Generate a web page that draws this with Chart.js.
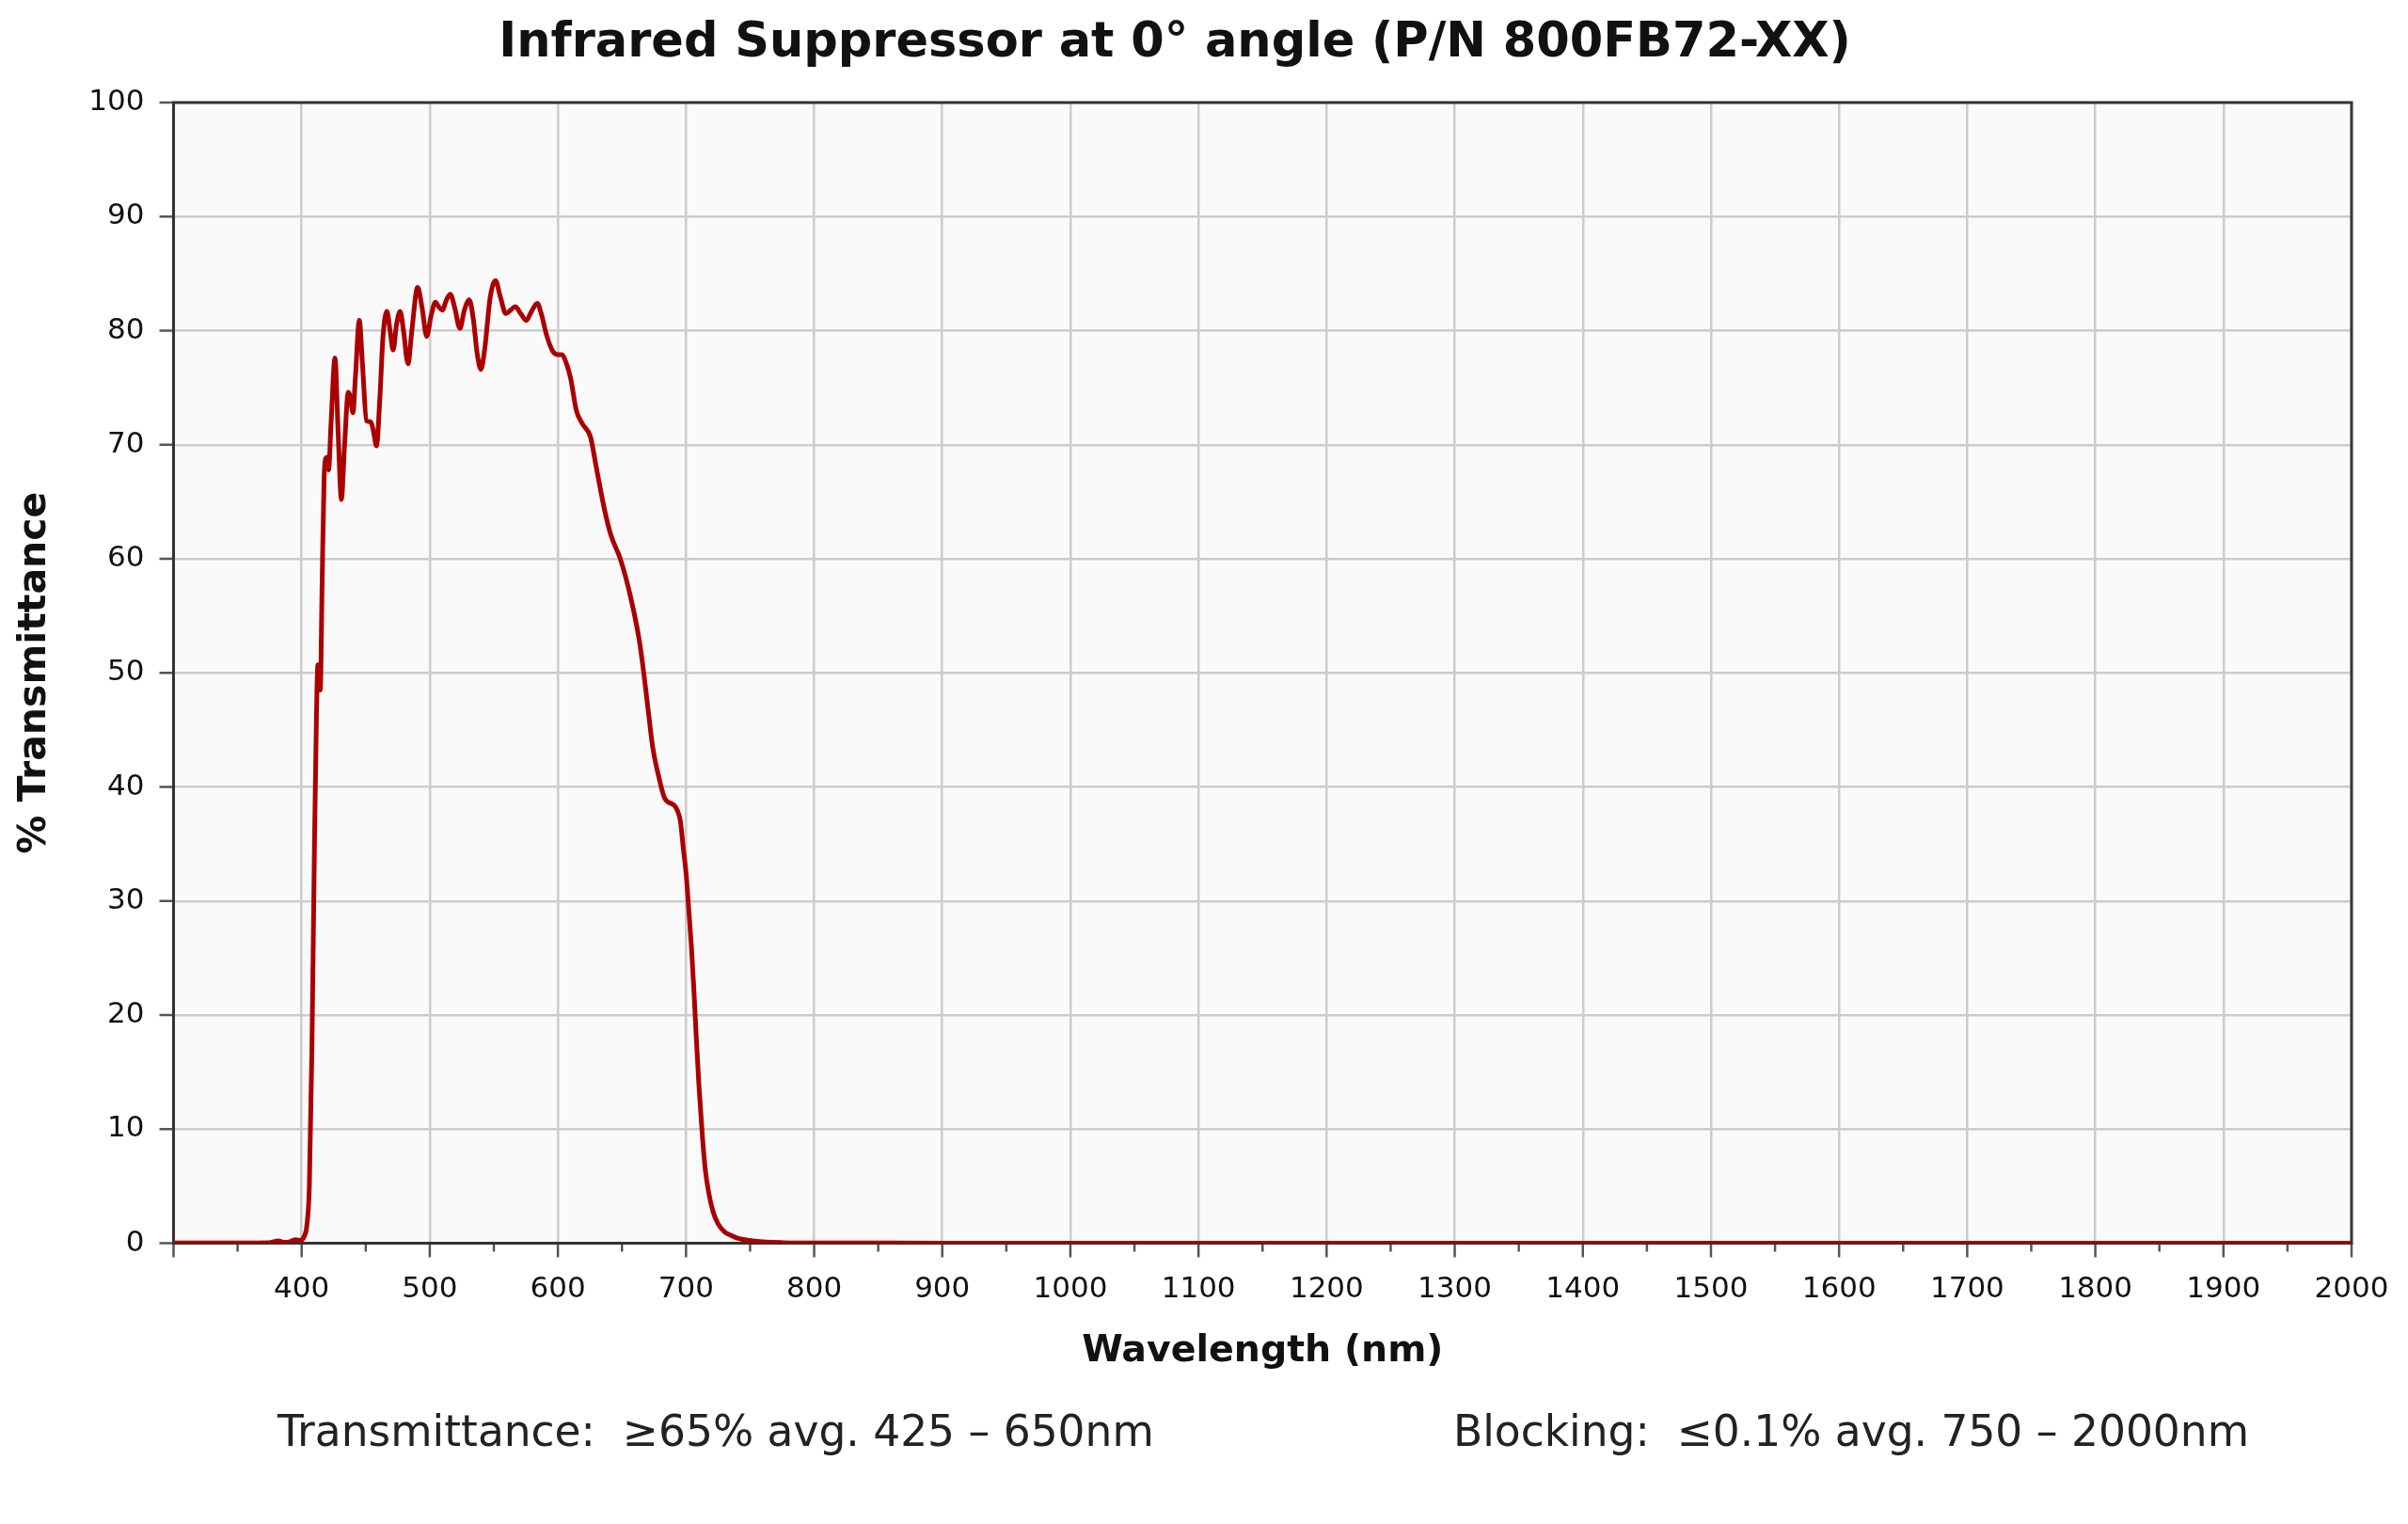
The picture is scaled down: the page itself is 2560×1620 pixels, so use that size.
<!DOCTYPE html>
<html>
<head>
<meta charset="utf-8">
<script src="https://cdn.jsdelivr.net/npm/chart.js@4.4.1/dist/chart.umd.min.js"></script>
<style>
html, body { margin: 0; padding: 0; background: #ffffff; }
#wrap { width: 2560px; height: 1620px; }
</style>
</head>
<body>
<div id="wrap"><canvas id="specChart" width="2560" height="1620"></canvas></div>
<script>
// wavelength (nm) and % transmittance
const wavelength = [
  300, 350, 375, 382, 386, 390, 395, 399, 402, 404, 406, 408, 410, 411.5, 412.7, 413.5, 414.5,
  416, 417.5, 418.8, 420, 421, 423, 426, 428.5, 431, 433.5, 436.4, 438, 440, 442, 445, 447.5,
  450.6, 454, 456, 458.4, 461, 463.5, 466.5, 469, 471.4, 474, 476.8, 479.5, 483, 486, 490.5,
  494, 497.6, 501, 504.4, 507, 509.8, 513, 516, 519.5, 523.5, 527, 530.8, 534, 537, 539.9,
  543, 547, 551.3, 555, 559.4, 563, 566.7, 571, 575.3, 579, 583.9, 587, 591.2, 596, 600, 603,
  607, 610, 614.4, 619.3, 625.4, 630, 636.4, 641.3, 648.7, 656, 663.3, 667, 670.7, 674, 678.5,
  683.4, 690.7, 693, 695.6, 698, 700, 702, 704.2, 706, 707.8, 710, 712.7, 715, 717.6, 721, 725,
  730, 734.8, 740, 749.4, 760, 776, 800, 900, 1000, 1200, 1400, 1600, 1800, 2000
];
const transmittance = [
  0.02, 0.03, 0.05, 0.2, 0.08, 0.1, 0.3, 0.25, 0.6, 1.5, 5, 17, 35, 46, 50.7, 50.5, 48.5,
  58, 67, 68.8, 68.9, 67.8, 72, 77.6, 71, 65.2, 70, 74.6, 74.2, 72.8, 76, 80.9, 77,
  72.1, 72.0, 71.2, 69.9, 74, 79.5, 81.7, 80, 78.3, 80.5, 81.7, 80, 77.1, 80, 83.8,
  82, 79.5, 81.3, 82.5, 82.1, 81.8, 82.7, 83.2, 82, 80.2, 81.8, 82.7, 81, 78, 76.6,
  78.5, 82.8, 84.4, 83, 81.5, 81.8, 82.1, 81.5, 80.9, 81.6, 82.4, 81.5, 79.6, 78.2, 77.9, 77.9,
  77, 75.8, 73, 71.8, 70.7, 68, 64.3, 62.1, 60, 57, 53, 50, 46.5, 43.5, 41,
  39, 38.4, 38, 37, 34.5, 32.5, 29.5, 26, 22.5, 18.5, 14, 9.5, 6.5, 4.5, 2.8, 1.7,
  1.0, 0.7, 0.45, 0.25, 0.12, 0.05, 0.02, 0.01, 0, 0, 0, 0, 0, 0
];
const xLabelTicks = [400, 500, 600, 700, 800, 900, 1000, 1100, 1200, 1300, 1400, 1500, 1600, 1700, 1800, 1900, 2000];
const yTickValues = [0, 10, 20, 30, 40, 50, 60, 70, 80, 90, 100];

const titleText = 'Infrared Suppressor at 0\u00B0 angle (P/N 800FB72-XX)';
const xTitle = 'Wavelength (nm)';
const yTitle = '% Transmittance';
const noteLeft = 'Transmittance:  \u226565% avg. 425 \u2013 650nm';
const noteRight = 'Blocking:  \u22640.1% avg. 750 \u2013 2000nm';

const FONT = '"DejaVu Sans", sans-serif';

const framePlugin = {
  id: 'framePlugin',
  beforeDraw(chart) {
    const { ctx, chartArea: a } = chart;
    ctx.save();
    ctx.fillStyle = '#fafafa';
    ctx.fillRect(a.left, a.top, a.right - a.left, a.bottom - a.top);
    ctx.restore();
  },
  beforeDatasetsDraw(chart) {
    const { ctx, chartArea: a, scales } = chart;
    ctx.save();
    ctx.strokeStyle = '#555555';
    ctx.lineWidth = 2.5;
    // x ticks: major every 100, minor every 50
    scales.x.ticks.forEach(t => {
      const px = scales.x.getPixelForValue(t.value);
      const len = t.value % 100 === 0 ? 15 : 9;
      ctx.beginPath();
      ctx.moveTo(px, a.bottom);
      ctx.lineTo(px, a.bottom + len);
      ctx.stroke();
    });
    scales.y.ticks.forEach(t => {
      const py = scales.y.getPixelForValue(t.value);
      ctx.beginPath();
      ctx.moveTo(a.left, py);
      ctx.lineTo(a.left - 15, py);
      ctx.stroke();
    });
    ctx.strokeStyle = '#333333';
    ctx.lineWidth = 3;
    ctx.strokeRect(a.left, a.top, a.right - a.left, a.bottom - a.top);
    ctx.restore();
  },
  afterDraw(chart) {
    const { ctx, chartArea: a } = chart;
    ctx.save();
    ctx.fillStyle = '#111111';
    ctx.textBaseline = 'middle';
    ctx.textAlign = 'center';
    ctx.font = 'bold 51px ' + FONT;
    ctx.fillText(titleText, 1249, 47);
    ctx.font = 'bold 39.5px ' + FONT;
    ctx.fillText(xTitle, (a.left + a.right) / 2, 1437);
    ctx.save();
    ctx.font = 'bold 41px ' + FONT;
    ctx.translate(37, (a.top + a.bottom) / 2);
    ctx.rotate(-Math.PI / 2);
    ctx.fillText(yTitle, 0, 0);
    ctx.restore();
    ctx.fillStyle = '#222222';
    ctx.textAlign = 'left';
    ctx.font = '45.5px ' + FONT;
    ctx.fillText(noteLeft, 295, 1525);
    ctx.fillText(noteRight, 1545, 1525);
    ctx.restore();
  }
};

new Chart(document.getElementById('specChart').getContext('2d'), {
  type: 'line',
  data: {
    datasets: [{
      data: wavelength.map((w, i) => ({ x: w, y: transmittance[i] })),
      borderColor: '#aa0000',
      borderWidth: 5,
      pointRadius: 0,
      fill: false,
      cubicInterpolationMode: 'monotone'
    }]
  },
  options: {
    responsive: false,
    animation: false,
    devicePixelRatio: 1,
    layout: { padding: { top: 109, right: 60, left: 0, bottom: 0 } },
    plugins: { legend: { display: false }, title: { display: false }, tooltip: { enabled: false } },
    scales: {
      x: {
        type: 'linear',
        min: 300,
        max: 2000,
        afterFit: s => { s.height = 1620 - 1321.5; s.paddingLeft = 0; s.paddingRight = 0; },
        afterBuildTicks: s => {
          const t = [];
          for (let v = 300; v <= 2000; v += 50) t.push({ value: v });
          s.ticks = t;
        },
        border: { display: false },
        grid: {
          drawTicks: false,
          lineWidth: 2.5,
          color: c => (c.tick && xLabelTicks.includes(c.tick.value) && c.tick.value !== 2000) ? '#cccccc' : 'rgba(0,0,0,0)'
        },
        ticks: {
          autoSkip: false,
          maxRotation: 0,
          padding: 31,
          color: '#111111',
          font: { family: FONT, size: 31 },
          callback: v => xLabelTicks.includes(v) ? String(v) : ''
        }
      },
      y: {
        min: 0,
        max: 100,
        afterFit: s => { s.width = 184.5; s.paddingTop = 0; s.paddingBottom = 0; },
        afterBuildTicks: s => { s.ticks = yTickValues.map(v => ({ value: v })); },
        border: { display: false },
        grid: {
          drawTicks: false,
          lineWidth: 2.5,
          color: c => (c.tick && c.tick.value > 0 && c.tick.value < 100) ? '#cccccc' : 'rgba(0,0,0,0)'
        },
        ticks: {
          padding: 31,
          color: '#111111',
          font: { family: FONT, size: 31 },
          callback: v => String(v)
        }
      }
    }
  },
  plugins: [framePlugin]
});
</script>
</body>
</html>
